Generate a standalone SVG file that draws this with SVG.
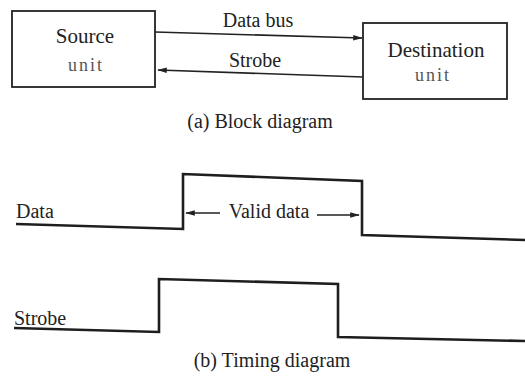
<svg xmlns="http://www.w3.org/2000/svg" width="525" height="379" viewBox="0 0 525 379">
  <defs>
    <style>
      text { font-family: "Liberation Serif", "Times New Roman", serif; fill: #222; }
      .box { fill: #fff; stroke: #222; stroke-width: 1.8; }
      .wire { fill: none; stroke: #222; stroke-width: 1.6; }
      .wave { fill: none; stroke: #1e1e1e; stroke-width: 2.6; stroke-linejoin: miter; }
      .title { font-size: 21px; }
      .small { font-size: 18px; fill: #555; letter-spacing: 2px; }
      .label { font-size: 20px; }
    </style>
    <marker id="arrow" viewBox="0 0 12 10" refX="11" refY="5" markerWidth="12" markerHeight="8" orient="auto-start-reverse" markerUnits="userSpaceOnUse">
      <path d="M0,1.5 L12,5 L0,8.5 Z" fill="#222"/>
    </marker>
  </defs>
  <rect width="525" height="379" fill="#fff"/>

  <!-- (a) block diagram -->
  <g id="source">
    <rect class="box" x="12" y="11" width="143" height="76"/>
    <text class="title" x="85" y="43" text-anchor="middle">Source</text>
    <text class="small" x="86" y="71" text-anchor="middle">unit</text>
  </g>
  <g id="destination">
    <rect class="box" x="363" y="23" width="144" height="76"/>
    <text class="title" x="436" y="57" text-anchor="middle">Destination</text>
    <text class="small" x="433" y="81" text-anchor="middle">unit</text>
  </g>
  <g id="connectors">
    <line class="wire" x1="155" y1="32" x2="362" y2="38" marker-end="url(#arrow)"/>
    <line class="wire" x1="363" y1="77" x2="158" y2="70" marker-end="url(#arrow)"/>
  </g>
  <text class="label" x="258" y="27" text-anchor="middle">Data bus</text>
  <text class="label" x="255" y="67" text-anchor="middle">Strobe</text>
  <text class="label" x="260" y="128" text-anchor="middle">(a) Block diagram</text>

  <!-- (b) timing diagram -->
  <text class="label" x="16" y="218">Data</text>
  <polyline class="wave" points="16,224 183,229 183,174 362,181 362,235 525,240"/>
  <line class="wire" x1="220" y1="213" x2="186" y2="213" marker-end="url(#arrow)"/>
  <text class="label" x="269" y="218" text-anchor="middle">Valid data</text>
  <line class="wire" x1="317" y1="215" x2="359" y2="215" marker-end="url(#arrow)"/>

  <text class="label" x="14" y="325">Strobe</text>
  <polyline class="wave" points="14,328 159,332 159,279 338,284 338,337 525,341"/>
  <text class="label" x="272" y="367" text-anchor="middle">(b) Timing diagram</text>
</svg>
